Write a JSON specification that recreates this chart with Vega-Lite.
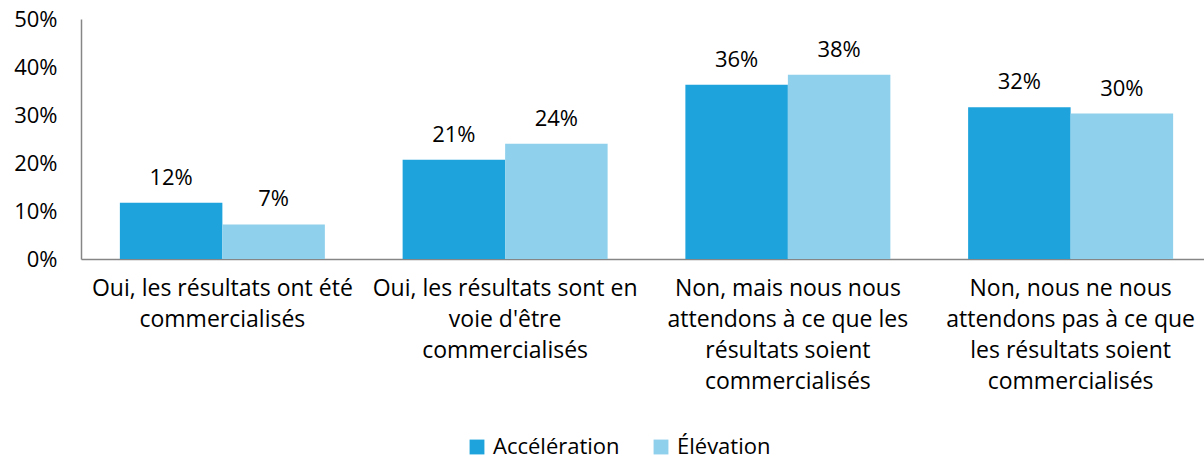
{
  "$schema": "https://vega.github.io/schema/vega-lite/v6.json",
  "width": 1131,
  "height": 240,
  "padding": {"left": 13, "top": 8, "right": 0, "bottom": 24},
  "background": "white",
  "data": {
    "values": [
      {"cat": "Oui, les résultats ont été|commercialisés", "serie": "Accélération", "v": 0.117},
      {"cat": "Oui, les résultats ont été|commercialisés", "serie": "Élévation", "v": 0.072},
      {"cat": "Oui, les résultats sont en|voie d'être|commercialisés", "serie": "Accélération", "v": 0.207},
      {"cat": "Oui, les résultats sont en|voie d'être|commercialisés", "serie": "Élévation", "v": 0.240},
      {"cat": "Non, mais nous nous|attendons à ce que les|résultats soient|commercialisés", "serie": "Accélération", "v": 0.363},
      {"cat": "Non, mais nous nous|attendons à ce que les|résultats soient|commercialisés", "serie": "Élévation", "v": 0.384},
      {"cat": "Non, nous ne nous|attendons pas à ce que|les résultats soient|commercialisés", "serie": "Accélération", "v": 0.316},
      {"cat": "Non, nous ne nous|attendons pas à ce que|les résultats soient|commercialisés", "serie": "Élévation", "v": 0.303}
    ]
  },
  "encoding": {
    "x": {
      "field": "cat", "type": "nominal", "sort": null, "title": null,
      "scale": {"paddingInner": 0.275, "paddingOuter": 0.1375},
      "axis": {
        "labelAngle": 0, "ticks": false, "domainColor": "#868686", "domainWidth": 1.5,
        "labelExpr": "split(datum.label, '|')", "labelFont": "Open Sans", "labelFontSize": 23,
        "labelColor": "#000000", "labelLineHeight": 31, "labelPadding": 18, "labelBaseline": "top",
        "labelLimit": 400
      }
    },
    "xOffset": {"field": "serie", "type": "nominal", "sort": ["Accélération", "Élévation"], "scale": {"paddingInner": 0, "paddingOuter": 0}},
    "y": {
      "field": "v", "type": "quantitative", "title": null,
      "scale": {"domain": [0, 0.5], "nice": false},
      "axis": {
        "values": [0, 0.1, 0.2, 0.3, 0.4, 0.5], "format": ".0%", "grid": false, "ticks": false,
        "domainColor": "#868686", "domainWidth": 1.5, "labelFont": "Open Sans", "labelFontSize": 22,
        "labelColor": "#000000", "labelPadding": 24
      }
    }
  },
  "layer": [
    {
      "mark": {"type": "bar"},
      "encoding": {
        "color": {
          "field": "serie", "type": "nominal", "sort": ["Accélération", "Élévation"],
          "scale": {"domain": ["Accélération", "Élévation"], "range": ["#1FA3DC", "#8FD0EC"]},
          "legend": {
            "title": null, "orient": "none", "direction": "horizontal", "legendX": 385, "legendY": 417,
            "symbolType": "square", "symbolSize": 220, "symbolStrokeWidth": 0,
            "labelFont": "Open Sans", "labelFontSize": 22, "labelColor": "#000000",
            "columnPadding": 30, "labelOffset": 5
          }
        }
      }
    },
    {
      "mark": {"type": "text", "baseline": "alphabetic", "dy": -18, "font": "Open Sans", "fontSize": 22, "color": "#000000"},
      "encoding": {
        "text": {"field": "v", "type": "quantitative", "format": ".0%"}
      }
    }
  ],
  "config": {"view": {"stroke": null}}
}
